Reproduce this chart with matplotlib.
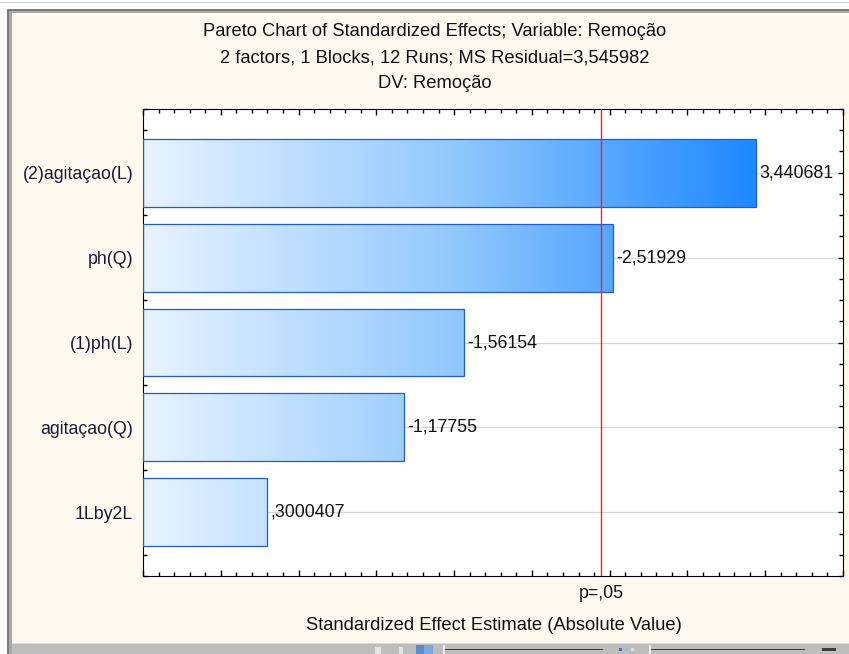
import matplotlib
matplotlib.use("Agg")
import matplotlib.pyplot as plt
import numpy as np
from matplotlib.patches import Rectangle
from matplotlib.colors import LinearSegmentedColormap
from matplotlib.ticker import FixedLocator

plt.rcParams['font.family'] = ['Liberation Sans', 'DejaVu Sans']

# Standardized effects (sorted by absolute value)
factors = ["(2)agitaçao(L)", "ph(Q)", "(1)ph(L)", "agitaçao(Q)", "1Lby2L"]
effects = [3.440681, -2.51929, -1.56154, -1.17755, 0.3000407]
t_crit = 2.446912          # two-sided t, alpha = .05, df = 6
x_range = (-0.5, 4.0)

title_lines = ["Pareto Chart of Standardized Effects; Variable: Remoção",
               "2 factors, 1 Blocks, 12 Runs; MS Residual=3,545982",
               "DV: Remoção"]
x_title = "Standardized Effect Estimate (Absolute Value)"
crit_label = "p=,05"

FS = 12.8
FS_T = 13.2


def stat_fmt(v):
    s = "%.7g" % v
    if s.startswith("0."):
        s = s[1:]
    elif s.startswith("-0."):
        s = "-" + s[2:]
    return s.replace(".", ",")


W, H = 849, 654
fig = plt.figure(figsize=(W / 100, H / 100), dpi=100)
fig.patch.set_facecolor('#FEF9EE')


def fx(x):
    return x / W


def fy(y):
    return 1 - y / H


def band(x0, y0, x1, y1, color, z=0):
    fig.add_artist(Rectangle((fx(x0), fy(y1)), fx(x1) - fx(x0), fy(y0) - fy(y1),
                             transform=fig.transFigure, facecolor=color,
                             edgecolor='none', zorder=z - 5))


# window frame
band(0, 0, W, 9, 'white')
band(0, 0, 7, H, 'white')
band(0, 2, W, 3, '#CFCFCF', 1)
band(7, 9, W, 13, '#A9A9A9', 1)
band(7, 9, W, 10.5, '#7A7A7A', 2)
band(7, 9, 12, H, '#A9A9A9', 1)
band(7, 9, 9, H, '#7A7A7A', 2)

# bottom toolbar
band(12, 643, W, H, '#BDBDBD', 1)
band(12, 643, W, 644, '#DADADA', 2)
band(444, 648.5, 603, 649.5, '#3C3C3C', 3)
band(650, 648.5, 805, 649.5, '#3C3C3C', 3)
band(443, 645, 445, H, '#F0F0F0', 3)
band(649, 645, 651, H, '#F0F0F0', 3)
band(416, 645, 433, H, '#7FA8DA', 3)
band(416, 645, 424, H, '#5C8CC8', 3)
for cx, col in [(620, '#3A6FC0'), (626, '#9DB6DA'), (632, '#D6E0EE')]:
    band(cx - 1.5, 647.5, cx + 1.5, 650.5, col, 3)
band(822, 647.5, 836, 650.5, '#3C3C3C', 3)
band(375, 647, 381, H, '#E4E4E4', 3)
band(399, 647, 403, H, '#E4E4E4', 3)

# titles
for line, yc in zip(title_lines, [32, 58, 84]):
    fig.text(fx(435), fy(yc), line, ha='center', va='center',
             fontsize=FS_T, color='#111111')

# axes
ax_h = 576 - 109
ax = fig.add_axes([fx(143), fy(576), fx(843) - fx(143), fy(109) - fy(576)])
ax.set_facecolor('white')
ypos = np.arange(len(factors))
ylim = (len(factors) - 0.25, -0.75)

vals = np.abs(effects)
vmax = vals.max()
cmap = LinearSegmentedColormap.from_list(
    'fill', [(0.0, '#E8F3FF'), (0.5, '#93C9FF'), (1.0, '#1E88FF')])
grad = np.linspace(0, 1, 256).reshape(1, -1)

bars = ax.barh(ypos, vals - x_range[0], left=x_range[0], height=0.8,
               facecolor='none', edgecolor='#1F5CD3', lw=0.9, zorder=3)
for b in bars:
    im = ax.imshow(grad, cmap=cmap, extent=[x_range[0], vmax, ylim[0], ylim[1]],
                   aspect='auto', interpolation='bilinear', zorder=2)
    im.set_clip_path(b)

ax.set_xlim(*x_range)
ax.set_ylim(*ylim)

# x ticks: long every 0.5, short every 0.1, no numeric labels
steps = np.arange(-5, 41)
major_x = steps[steps % 5 == 0] / 10
minor_x = steps[steps % 5 != 0] / 10
ax.xaxis.set_major_locator(FixedLocator(major_x))
ax.xaxis.set_minor_locator(FixedLocator(minor_x))
ax.tick_params(axis='both', which='both', direction='in', top=True, right=True,
               color='black', width=1.0)
ax.tick_params(axis='x', which='major', length=4.5, labelbottom=False)
ax.tick_params(axis='x', which='minor', length=3.2)

ax.set_yticks(ypos)
ax.set_yticklabels(factors, fontsize=FS, color='#1A1A33')
ax.yaxis.set_minor_locator(FixedLocator(
    [y + d for y in np.arange(-1, len(factors)) for d in (0.25, 0.5, 0.75)]))
ax.tick_params(axis='y', which='major', length=3.5, pad=7)
ax.tick_params(axis='y', which='minor', length=2.8)

for y in ypos:
    ax.plot(x_range, [y, y], color='#D6D6D6', lw=0.9, zorder=1)
ax.plot([t_crit, t_crit], ylim, color='#FF1E1E', lw=1.0, zorder=4)

for y, v, e in zip(ypos, vals, effects):
    ax.text(v + 0.02, y, stat_fmt(e), ha='left', va='center',
            fontsize=FS, color='#111111', zorder=5)

ax.set_xlim(*x_range)
ax.set_ylim(*ylim)

xt = ax.get_xaxis_transform()
ax.text(t_crit, -17 / ax_h, crit_label, transform=xt,
        ha='center', va='center', fontsize=FS, color='#111111')
fig.text(fx(494), fy(625), x_title, ha='center', va='center',
         fontsize=FS_T, color='#111111')

fig.savefig('out.png', dpi=100, facecolor=fig.get_facecolor())
